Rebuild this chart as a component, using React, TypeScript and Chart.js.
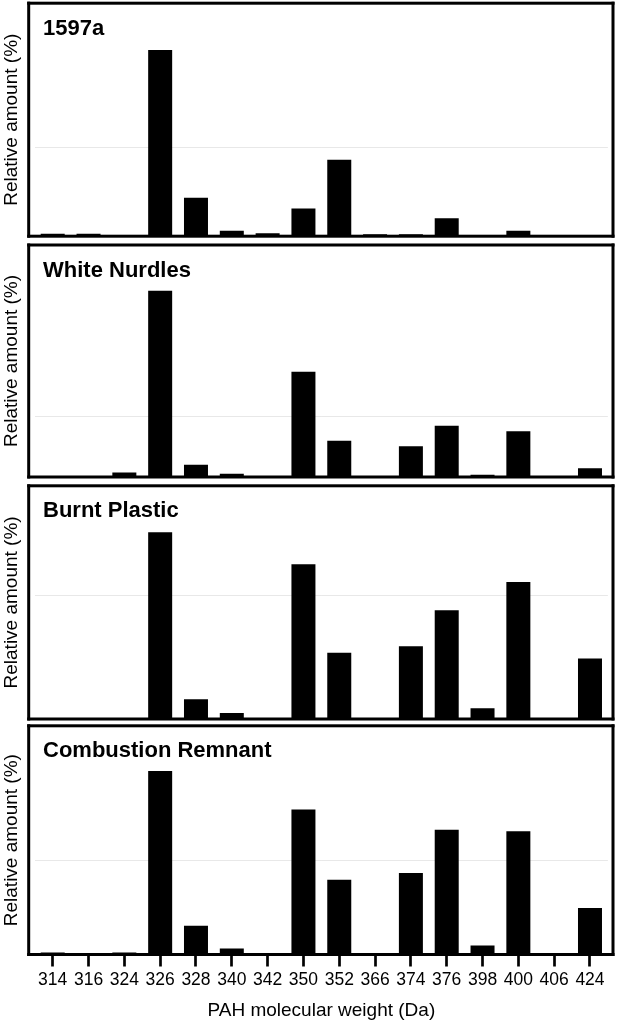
import React, { useEffect, useRef } from "react";
import { Chart, registerables } from "chart.js";

Chart.register(...registerables);

// ---- data ----
const categories = ["314", "316", "324", "326", "328", "340", "342", "350", "352", "366", "374", "376", "398", "400", "406", "424"];
const values1597a = [0.57, 0.57, 0, 42.2, 8.7, 1.25, 0.65, 6.3, 17.3, 0.43, 0.43, 4.06, 0, 1.25, 0, 0];
const valuesWhiteNurdles = [0, 0, 1.5, 61.3, 4.0, 1.1, 0, 34.7, 11.9, 0, 10.1, 16.9, 0.7, 15.1, 0, 2.9];
const valuesBurntPlastic = [0, 0, 0, 30.2, 3.2, 0.97, 0, 25.0, 10.7, 0, 11.75, 17.6, 1.73, 22.15, 0, 9.8];
const valuesCombustionRemnant = [0.4, 0.2, 0.4, 39.0, 6.1, 1.25, 0, 30.8, 15.9, 0.2, 17.3, 26.5, 1.9, 26.2, 0, 9.9];
const panelNames = ["1597a", "White Nurdles", "Burnt Plastic", "Combustion Remnant"];
const yAxisTitle = "Relative amount (%)";
const xAxisTitle = "PAH molecular weight (Da)";
const gridValue = 20;

const FONT = "'Liberation Sans', Arial, Helvetica, sans-serif";
const WIDTH = 617;

type Panel = {
  name: string;
  values: number[];
  yMax: number;
  top: number;
  height: number;
  padTop: number;
  padBottom: number;
  showX: boolean;
};

const panels: Panel[] = [
  { name: panelNames[0], values: values1597a, yMax: 52.8, top: 0, height: 240, padTop: 3.2, padBottom: 3.8, showX: false },
  { name: panelNames[1], values: valuesWhiteNurdles, yMax: 76.4, top: 242, height: 239, padTop: 3, padBottom: 4, showX: false },
  { name: panelNames[2], values: valuesBurntPlastic, yMax: 37.7, top: 483, height: 240, padTop: 2.8, padBottom: 4, showX: false },
  { name: panelNames[3], values: valuesCombustionRemnant, yMax: 48.6, top: 723, height: 300, padTop: 2.8, padBottom: 2.5, showX: true },
];

function PanelChart({ panel }: { panel: Panel }) {
  const ref = useRef<HTMLCanvasElement | null>(null);
  useEffect(() => {
    const canvas = ref.current;
    if (!canvas) return;
    const boxPlugin = {
      id: "boxAndLabel",
      afterDraw(chart: any) {
        const { ctx, chartArea: ca } = chart;
        const L = ca.left - 6.1;
        const R = ca.right + 5.1;
        const T = ca.top;
        const B = ca.bottom;
        const t = 3;
        ctx.save();
        ctx.fillStyle = "#000";
        ctx.fillRect(L - t / 2, T - t / 2, R - L + t, t);
        ctx.fillRect(L - t / 2, B - t / 2, R - L + t, t);
        ctx.fillRect(L - t / 2, T - t / 2, t, B - T + t);
        ctx.fillRect(R - t / 2, T - t / 2, t, B - T + t);
        ctx.font = `bold 22px ${FONT}`;
        ctx.textBaseline = "alphabetic";
        ctx.textAlign = "left";
        ctx.fillText(panel.name, 43, T + 31.5);
        ctx.restore();
      },
    };
    const chart = new Chart(canvas, {
      type: "bar",
      data: {
        labels: categories,
        datasets: [
          {
            data: panel.values,
            backgroundColor: "#000",
            borderWidth: 0,
            barPercentage: 1,
            categoryPercentage: 0.67,
          },
        ],
      },
      options: {
        animation: false,
        responsive: false,
        devicePixelRatio: 1,
        layout: { padding: { left: 0, right: 9.1, top: panel.padTop, bottom: panel.padBottom } },
        plugins: { legend: { display: false }, tooltip: { enabled: false }, title: { display: false } },
        scales: {
          x: {
            type: "category",
            offset: true,
            display: panel.showX,
            grid: {
              display: true,
              drawOnChartArea: false,
              drawTicks: true,
              tickLength: 12,
              tickWidth: 2.7,
              tickColor: "#000",
              offset: false,
            },
            border: { display: false },
            ticks: {
              display: true,
              color: "#000",
              font: { family: FONT, size: 17.5, lineHeight: 1 },
              padding: 4.8,
              maxRotation: 0,
              minRotation: 0,
              autoSkip: false,
            },
            title: {
              display: true,
              text: xAxisTitle,
              color: "#000",
              font: { family: FONT, size: 19, lineHeight: 1 },
              padding: { top: 7.9, bottom: 0 },
            },
          },
          y: {
            min: 0,
            max: panel.yMax,
            z: 1,
            afterBuildTicks: (s: any) => {
              s.ticks = [{ value: gridValue }];
            },
            ticks: { display: false },
            grid: { drawTicks: false, color: "rgba(150,150,150,0.22)", lineWidth: 1 },
            border: { display: false },
            title: {
              display: true,
              text: yAxisTitle,
              color: "#000",
              font: { family: FONT, size: 19, lineHeight: 1 },
              padding: { top: 2.5, bottom: 13.3 },
            },
          },
        },
      },
      plugins: [boxPlugin],
    } as any);
    return () => chart.destroy();
  }, [panel]);
  return (
    <canvas
      ref={ref}
      width={WIDTH}
      height={panel.height}
      style={{ position: "absolute", left: 0, top: panel.top, width: WIDTH, height: panel.height }}
    />
  );
}

export default function App() {
  return (
    <div style={{ position: "absolute", left: 0, top: 0, width: WIDTH, height: 1023, background: "#fff", overflow: "hidden" }}>
      {panels.map((p) => (
        <PanelChart key={p.name} panel={p} />
      ))}
    </div>
  );
}
